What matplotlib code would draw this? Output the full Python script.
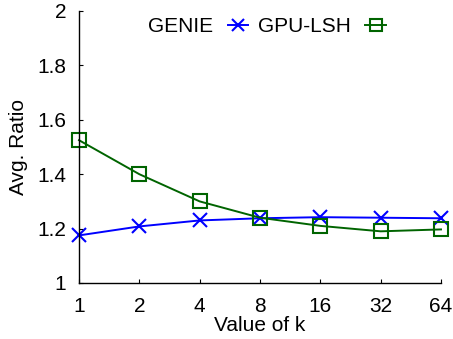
import matplotlib
matplotlib.use('Agg')
import matplotlib.pyplot as plt

plt.rcParams['font.family'] = ['Liberation Sans', 'DejaVu Sans']

# Data
k_labels = ['1', '2', '4', '8', '16', '32', '64']
genie = [1.175, 1.208, 1.230, 1.238, 1.242, 1.240, 1.238]
gpu_lsh = [1.525, 1.400, 1.300, 1.240, 1.210, 1.190, 1.197]

fig = plt.figure(figsize=(4.53, 3.39), dpi=100)
# axes box: left spine at x=79, bottom at y=283, top at y=11, right at x=441
ax = fig.add_axes([79 / 453, (339 - 283) / 339, (441 - 79) / 453, (283 - 11) / 339])

x = range(len(k_labels))
ax.plot(x, genie, color='#0000ff', marker='x', markersize=9.5, markeredgewidth=1.5,
        linewidth=1.4, label='GENIE', clip_on=False)
ax.plot(x, gpu_lsh, color='#006400', marker='s', markersize=9.5, markerfacecolor='none',
        markeredgewidth=1.5, linewidth=1.4, label='GPU-LSH', clip_on=False)

ax.set_xlim(0, len(k_labels) - 1)
ax.set_ylim(1, 2)
ax.set_xticks(list(x))
ax.set_xticklabels(k_labels)
ax.set_yticks([1, 1.2, 1.4, 1.6, 1.8, 2])
ax.set_yticklabels(['1', '1.2', '1.4', '1.6', '1.8', '2'])
ax.tick_params(direction='in', labelsize=15, length=3, width=0.8)
ax.tick_params(axis='x', pad=10)
ax.tick_params(axis='y', pad=9)
for s in ['top', 'right']:
    ax.spines[s].set_visible(False)
for s in ['left', 'bottom']:
    ax.spines[s].set_linewidth(1.0)

ax.set_xlabel('Value of k', fontsize=15, labelpad=0)
ax.set_ylabel('Avg. Ratio', fontsize=15, labelpad=7)

ax.legend(loc='center', bbox_to_anchor=(0.5 + 7 / 362, 1 - 16 / 272), ncol=2, frameon=False,
          markerfirst=False, fontsize=15, handlelength=1.0, columnspacing=0.45,
          handletextpad=0.7, borderpad=0.0, markerscale=0.85)

fig.savefig('out.png', dpi=100)
